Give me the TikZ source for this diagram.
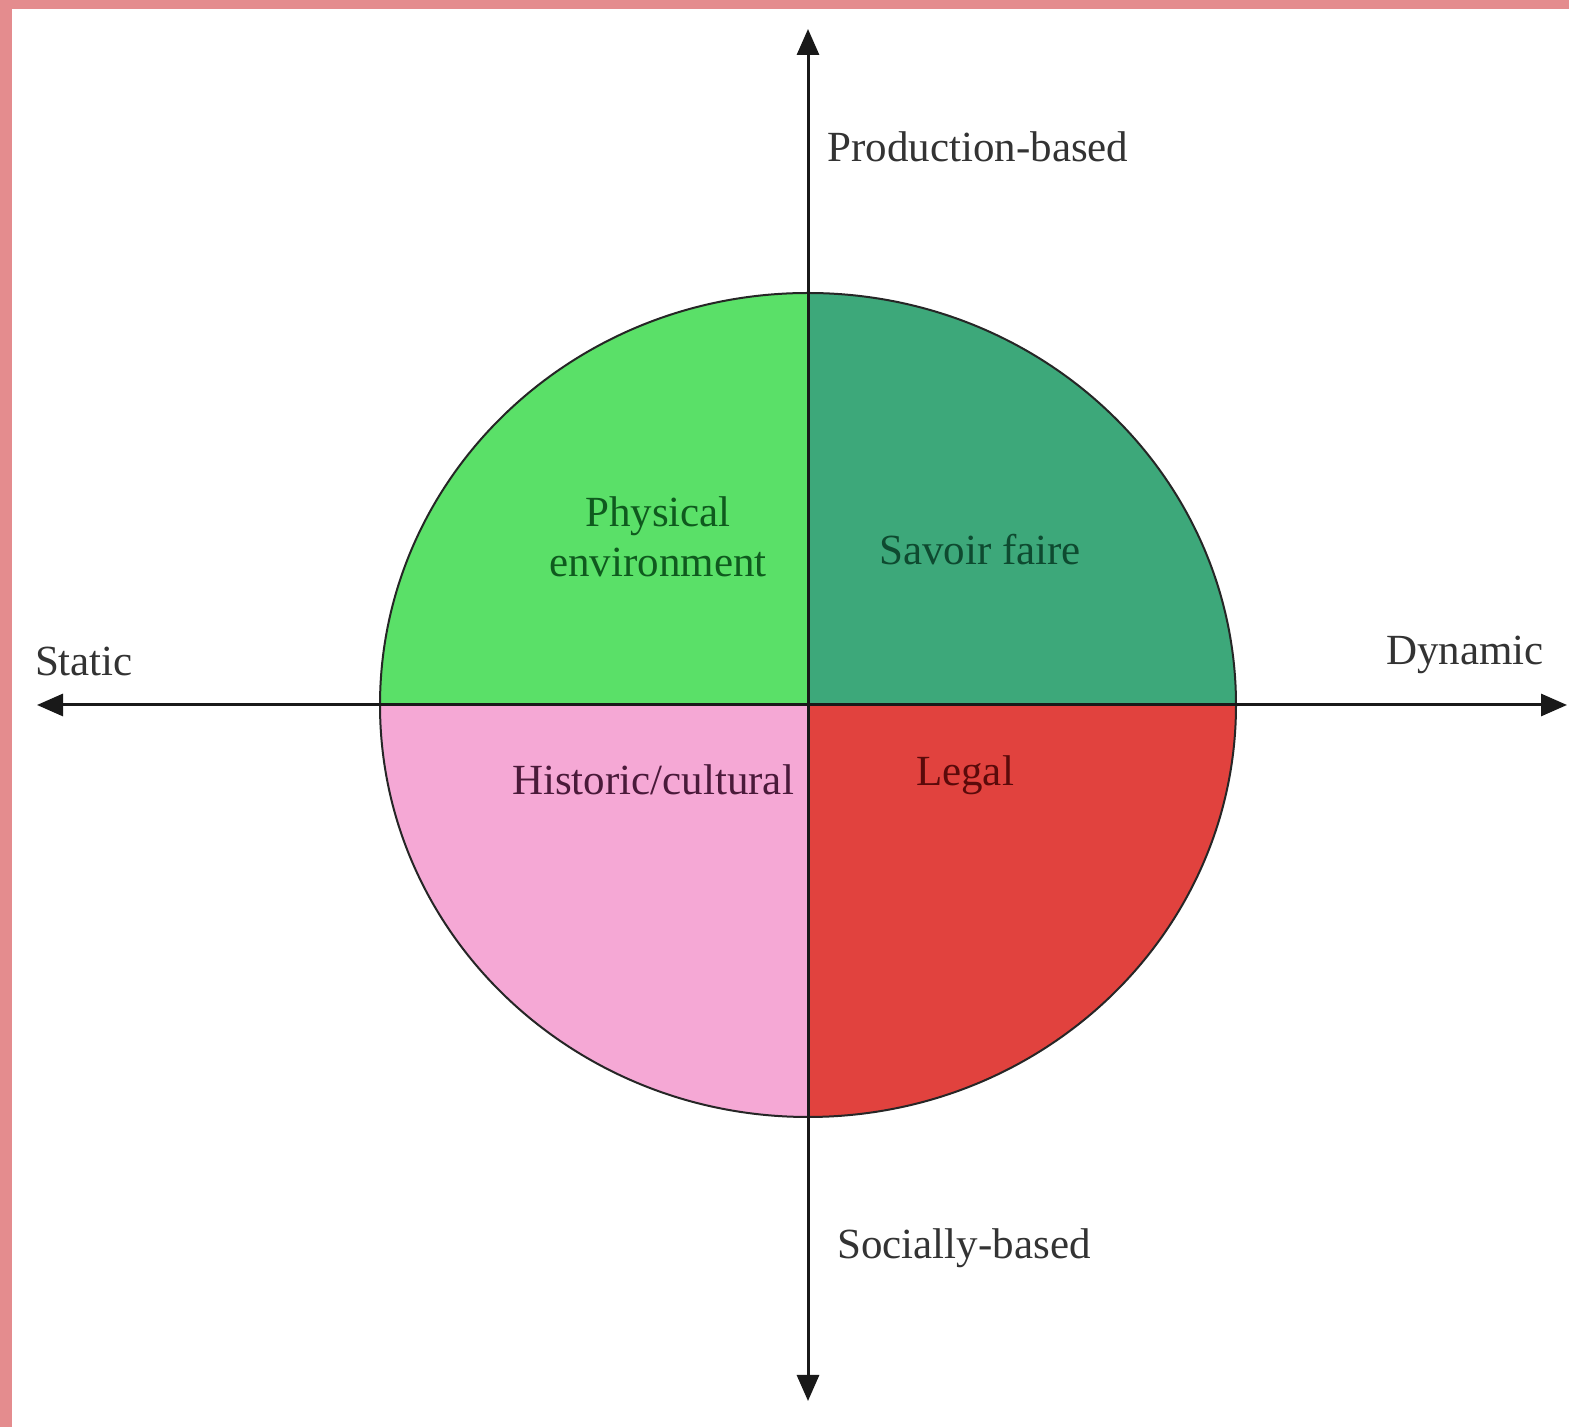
\documentclass[tikz,border=0pt]{standalone}
\usepackage{fontspec}
\setmainfont{Liberation Serif}
\usetikzlibrary{arrows.meta}
\definecolor{frame}{HTML}{E48C8E}
\definecolor{lgreen}{HTML}{5AE068}
\definecolor{dgreen}{HTML}{3DA87A}
\definecolor{lpink}{HTML}{F5A8D5}
\definecolor{lred}{HTML}{E1423E}
\definecolor{axtext}{HTML}{333333}
\definecolor{tphys}{HTML}{0F5A1E}
\definecolor{tsav}{HTML}{0E4A30}
\definecolor{thist}{HTML}{4A1A3A}
\definecolor{tlegal}{HTML}{5A0A0A}
\tikzset{
  lbl/.style={font=\fontsize{43}{50}\selectfont, inner sep=0pt, align=center},
  axis/.style={line width=3pt, draw=black!90, -{Triangle[length=26pt,width=22pt]}},
  quad/.style={draw=black!85, line width=2pt},
}
\begin{document}
\begin{tikzpicture}[x=1pt,y=1pt]
\useasboundingbox (0,0) rectangle (1569,1427);
\fill[frame] (0,0) rectangle (1569,1427);
\fill[white] (12,0) rectangle (1569,1418);
% quadrants
\coordinate (c) at (808,722);
\filldraw[quad, fill=lgreen] (c) -- (380,722) arc[start angle=180, end angle=90, x radius=428, y radius=412] -- cycle;
\filldraw[quad, fill=dgreen] (c) -- (808,1134) arc[start angle=90, end angle=0, x radius=428, y radius=412] -- cycle;
\filldraw[quad, fill=lpink] (c) -- (380,722) arc[start angle=180, end angle=270, x radius=428, y radius=412] -- cycle;
\filldraw[quad, fill=lred] (c) -- (808,310) arc[start angle=270, end angle=360, x radius=428, y radius=412] -- cycle;
% axes
\coordinate (top) at (808,1398);
\coordinate (bot) at (808,26);
\coordinate (left) at (37,722);
\coordinate (right) at (1567,722);
\draw[axis] (c) -- (top);
\draw[axis] (c) -- (bot);
\draw[axis] (c) -- (left);
\draw[axis] (c) -- (right);
% labels
\node[lbl, text=axtext] (prod) at (978,1280) {Production-based};
\node[lbl, text=axtext] (soc) at (964,179) {Socially-based};
\node[lbl, text=axtext] (stat) at (84,766) {Static};
\node[lbl, text=axtext] (dyn) at (1465,772) {Dynamic};
\node[lbl, text=tphys] (phys) at (658,890) {Physical\\environment};
\node[lbl, text=tsav] (sav) at (980,877) {Savoir faire};
\node[lbl, text=thist] (hist) at (653,647) {Historic/cultural};
\node[lbl, text=tlegal] (legal) at (965,652) {Legal};
\end{tikzpicture}
\end{document}
